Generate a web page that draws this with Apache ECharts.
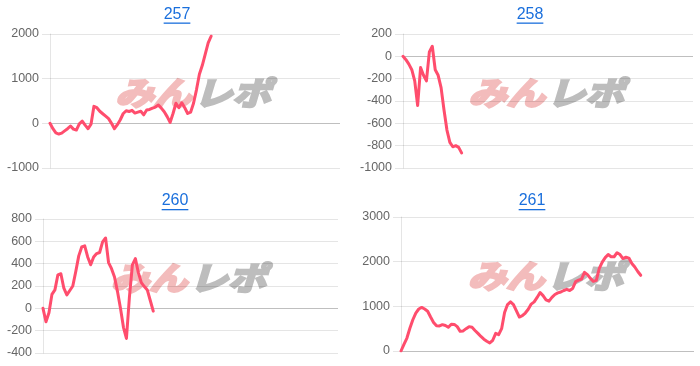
<!DOCTYPE html>
<html><head><meta charset="utf-8">
<script src="https://cdn.jsdelivr.net/npm/echarts@6/dist/echarts.min.js"></script>
<style>html,body{margin:0;padding:0;background:#fff}#c{width:700px;height:366px}</style>
</head><body><div id="c"></div>
<script>
// ---- data ----
const titles = ['257', '258', '260', '261'];
const categoryCount = 100;
const values257 = [0,-120,-215,-240,-220,-170,-120,-60,-130,-150,-10,50,-40,-120,-20,380,350,270,215,160,105,0,-120,-30,80,220,280,265,290,230,250,270,190,300,310,340,365,410,340,260,150,20,220,450,350,460,350,220,250,450,750,1100,1300,1550,1800,1950];
const values258 = [0,-30,-70,-120,-220,-440,-100,-170,-220,40,90,-120,-170,-280,-480,-660,-770,-810,-800,-815,-865];
const values260 = [0,-120,-40,125,165,300,310,180,120,160,200,330,470,550,560,460,390,460,490,500,595,630,410,355,280,150,0,-170,-270,100,390,445,320,230,195,165,70,-25];
const values261 = [0,150,290,510,700,850,940,975,940,890,760,640,565,560,590,570,530,600,595,545,440,450,500,545,530,460,395,325,265,220,180,240,395,365,500,860,1040,1100,1040,900,760,790,850,935,1050,1100,1200,1310,1240,1145,1115,1200,1265,1300,1320,1355,1380,1355,1400,1555,1585,1610,1760,1710,1625,1560,1580,1850,1990,2090,2160,2110,2110,2200,2160,2070,2100,2080,1960,1880,1780,1695];
const yMins = [-1000, -1000, -400, 0];
const yMaxs = [2000, 200, 800, 3000];
const yIntervals = [1000, 200, 200, 1000];

// ---- layout / style ----
const grids = [
  {left: 50, top: 34, width: 290, height: 134},
  {left: 403, top: 34, width: 290, height: 134},
  {left: 43, top: 219, width: 295, height: 134},
  {left: 401, top: 217, width: 293, height: 134}
];
const titlePos = [[177, 14.5], [530, 14.5], [175, 201], [532, 201]];
const LINE = '#ff4d6d';
const FONT = "'Liberation Sans', Arial, Helvetica, sans-serif";
const seriesValues = [values257, values258, values260, values261];
const categories = Array.from({length: categoryCount}, (_, i) => String(i + 1));

const chart = echarts.init(document.getElementById('c'), null, {renderer: 'canvas'});

const measure = document.createElement('canvas').getContext('2d');
measure.font = '16px ' + FONT;

const graphic = [];
titles.forEach((t, k) => {
  const [x, y] = titlePos[k];
  const w = measure.measureText(t).width;
  graphic.push({type: 'text', x: x, y: y, z: 10,
    style: {text: t, fill: '#1a6fdc', font: '16px ' + FONT, align: 'center', verticalAlign: 'middle'}});
  graphic.push({type: 'rect', shape: {x: x - w / 2, y: y + 8, width: w, height: 1.3}, z: 10,
    style: {fill: '#1a6fdc'}});
});
const WM_FONT = "italic bold 32px 'Noto Sans CJK JP'";
const WM_PINK = '#f3bcbc';
const WM_GRAY = '#bdbdbd';
grids.forEach((g) => {
  const cx = g.left + g.width / 2 - 3;
  const cy = g.top + g.height / 2 - 8;
  graphic.push({type: 'text', x: cx, y: cy, z: -10, scaleX: 1.2,
    style: {text: 'みん', fill: WM_PINK, stroke: WM_PINK, lineWidth: 2.6, font: WM_FONT, align: 'right', verticalAlign: 'middle'}});
  graphic.push({type: 'text', x: cx + 2, y: cy, z: -10, scaleX: 1.2,
    style: {text: 'レポ', fill: WM_GRAY, stroke: WM_GRAY, lineWidth: 2.6, font: WM_FONT, align: 'left', verticalAlign: 'middle'}});
});

const option = {
  animation: false,
  backgroundColor: '#fff',
  grid: grids.map(g => Object.assign({containLabel: false}, g)),
  graphic: graphic,
  xAxis: grids.map((g, k) => ({
    type: 'category', gridIndex: k, data: categories, boundaryGap: false,
    axisLine: {show: false}, axisTick: {show: false}, axisLabel: {show: false}, splitLine: {show: false}
  })),
  yAxis: grids.map((g, k) => {
    const colors = [];
    for (let v = yMins[k]; v <= yMaxs[k]; v += yIntervals[k]) colors.push(v === 0 ? 'rgba(0,0,0,0.25)' : 'rgba(0,0,0,0.1)');
    return {
      type: 'value', gridIndex: k, min: yMins[k], max: yMaxs[k], interval: yIntervals[k],
      axisLine: {show: true, lineStyle: {color: 'rgba(0,0,0,0.1)'}},
      axisTick: {show: true, length: 8, lineStyle: {color: 'rgba(0,0,0,0.1)'}},
      axisLabel: {color: '#666', fontSize: 12.5, fontFamily: FONT, margin: 11, formatter: v => String(v)},
      splitLine: {show: true, lineStyle: {color: colors, width: 1}}
    };
  }),
  series: seriesValues.map((vals, k) => ({
    type: 'line', xAxisIndex: k, yAxisIndex: k, data: vals, showSymbol: false, symbol: 'none',
    lineStyle: {color: LINE, width: 3, join: 'round', cap: 'round'}, z: 5
  }))
};
chart.setOption(option);
</script></body></html>
